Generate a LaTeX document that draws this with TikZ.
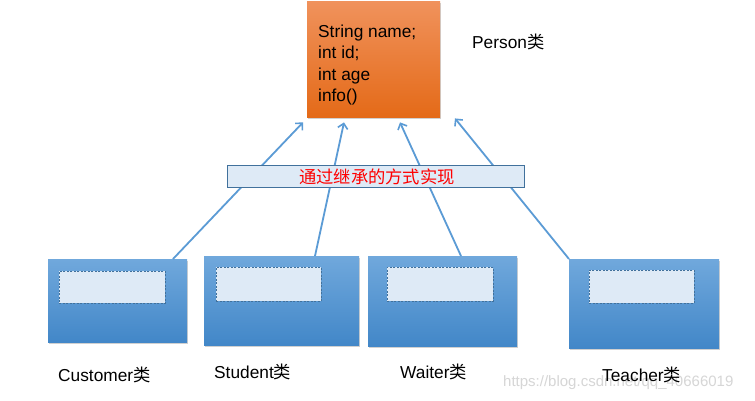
\documentclass[tikz,border=0pt]{standalone}
\usepackage{fontspec}
\setmainfont{Liberation Sans}
\newfontfamily\cjk{Noto Sans CJK SC}
\usetikzlibrary{arrows.meta,shadows,calc}
\definecolor{ortop}{RGB}{240,146,92}
\definecolor{orbot}{RGB}{228,106,24}
\definecolor{bltop}{RGB}{112,168,220}
\definecolor{blbot}{RGB}{66,135,200}
\definecolor{pale}{RGB}{222,234,246}
\definecolor{edgeb}{RGB}{65,113,156}
\definecolor{linkb}{RGB}{91,155,213}
\tikzset{
  shad/.style={drop shadow={shadow xshift=1.2pt,shadow yshift=-1.5pt,opacity=0.3,fill=black!60}},
  parentbox/.style={shad,top color=ortop,bottom color=orbot,draw=none,anchor=north west,inner sep=0pt},
  childbox/.style={shad,top color=bltop,bottom color=blbot,draw=none,anchor=north west,inner sep=0pt},
  slot/.style={fill=pale,draw=edgeb,dashed,line width=0.6pt,anchor=north west,inner sep=0pt,dash pattern=on 2pt off 1.5pt},
  tag/.style={font=\fontsize{17.3}{20}\selectfont,anchor=west,inner sep=0pt},
  link/.style={draw=linkb,line width=1.8pt,-{Straight Barb[length=5pt,width=10pt,line width=1.6pt]}},
  note/.style={fill=pale,draw=edgeb,line width=0.8pt,anchor=north west,inner sep=0pt}
}
\begin{document}
\begin{tikzpicture}[x=1pt,y=-1pt]
\fill[white] (0,0) rectangle (755,401);
\useasboundingbox (0,0) rectangle (755,401);
% watermark (behind everything else)
\node[text=black!16,font=\fontsize{15}{18}\selectfont,anchor=west,inner sep=0pt] (wm) at (503,383) {https://blog.csdn.net/qq\_40666019};
% parent
\node[parentbox,minimum width=133pt,minimum height=116pt] (person) at (307,1) {};
\node[tag,font=\fontsize{17.3}{21.3}\selectfont,align=left] (fields) at (318,65) {String name;\\int id;\\int age\\info()};
\node[tag] (plabel) at (472,42) {Person{\cjk 类}};
% children
\node[childbox,minimum width=139pt,minimum height=83pt] (cust) at (48,259) {};
\node[slot,minimum width=106pt,minimum height=32pt] (custslot) at (59,271) {};
\node[childbox,minimum width=155pt,minimum height=89pt] (stud) at (204,256) {};
\node[slot,minimum width=105pt,minimum height=34pt] (studslot) at (216,267) {};
\node[childbox,minimum width=149pt,minimum height=90pt] (wait) at (368,256) {};
\node[slot,minimum width=106pt,minimum height=34pt] (waitslot) at (387,267) {};
\node[childbox,minimum width=150pt,minimum height=89pt] (teach) at (569,259) {};
\node[slot,minimum width=105pt,minimum height=33pt] (teachslot) at (589,270) {};
% child labels
\node[tag] (clabel) at (58,375) {Customer{\cjk 类}};
\node[tag] (slabel) at (214,372) {Student{\cjk 类}};
\node[tag] (wlabel) at (400,372) {Waiter{\cjk 类}};
\node[tag] (tlabel) at (602,375) {Teacher{\cjk 类}};
% connectors
\draw[link] ([xshift=125pt]cust.north west) -- ([xshift=-4pt,yshift=-5pt]person.south west);
\draw[link] ([xshift=111pt]stud.north west) -- ([xshift=37pt,yshift=-5pt]person.south west);
\draw[link] ([xshift=93pt]wait.north west) -- ([xshift=93pt,yshift=-5pt]person.south west);
\draw[link] (teach.north west) -- ([xshift=148pt,yshift=-1pt]person.south west);
% note
\node[note,minimum width=297pt,minimum height=22pt] (noteb) at (227,165) {};
\node[text=red,font=\cjk\fontsize{17.3}{20}\selectfont,inner sep=0pt] (notet) at (377,176.5) {通过继承的方式实现};
\end{tikzpicture}
\end{document}
